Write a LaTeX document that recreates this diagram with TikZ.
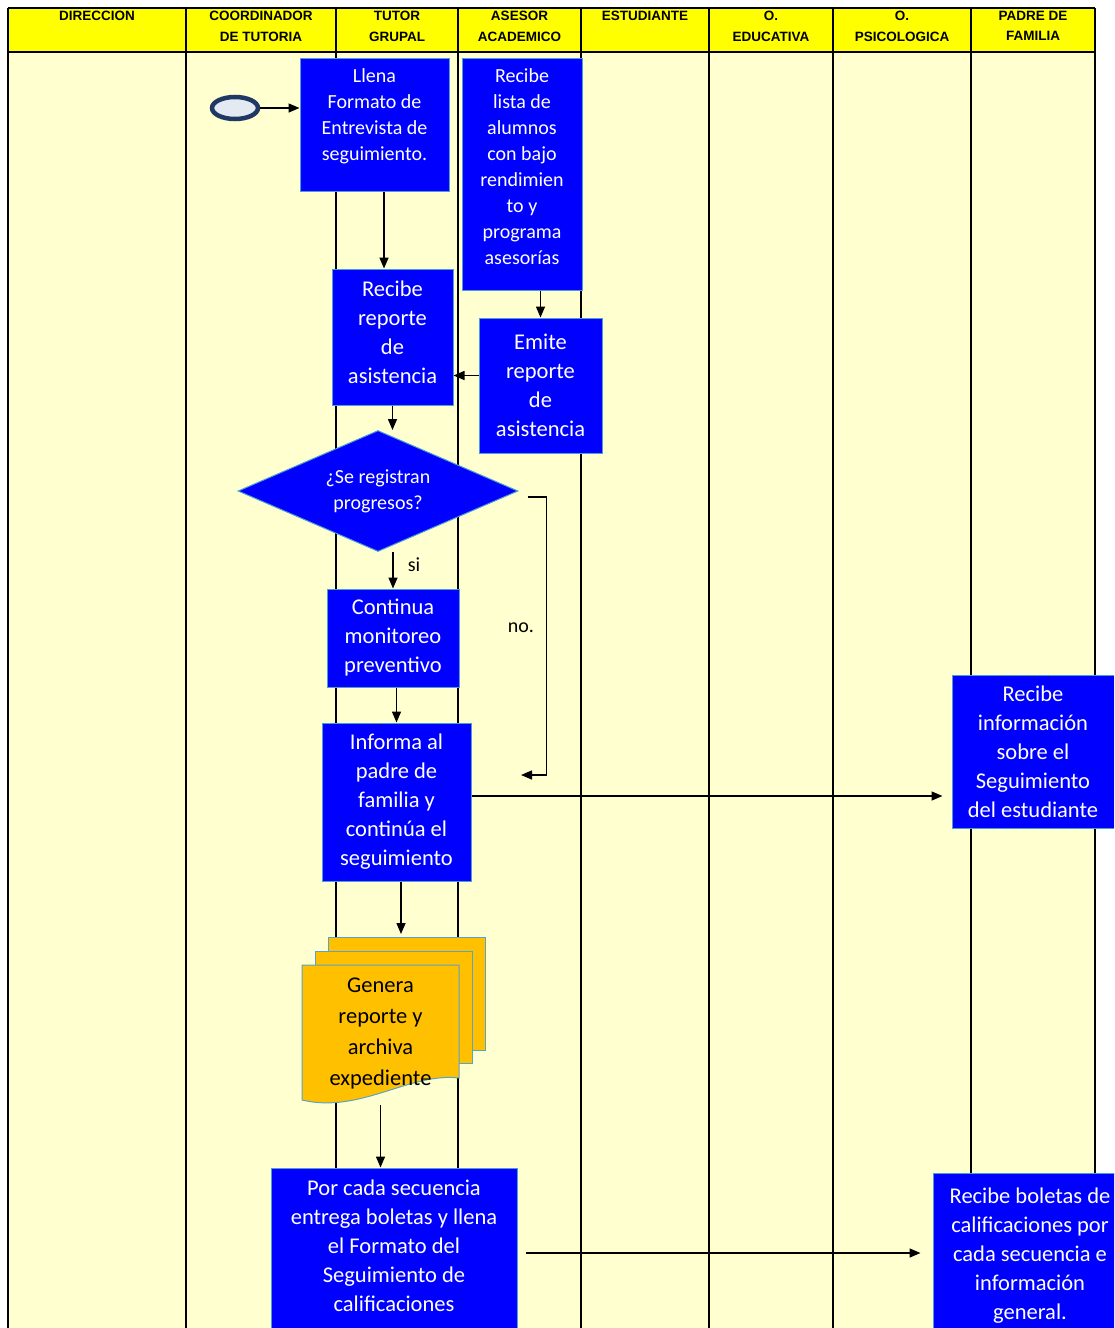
\documentclass[tikz,border=0pt]{standalone}
\usepackage{fontspec}
\setmainfont{Carlito}
\newfontfamily\hdrfont{Liberation Sans}
\usetikzlibrary{shapes.geometric,arrows.meta}
\definecolor{procblue}{HTML}{0000FF}
\definecolor{procedge}{HTML}{4A9FD0}
\definecolor{lanebg}{HTML}{FFFFCF}
\definecolor{hdrfill}{HTML}{FFFF00}
\definecolor{docfill}{HTML}{FFC000}
\definecolor{docedge}{HTML}{5BA3C6}
\definecolor{ovalnavy}{HTML}{1F3864}
\definecolor{ovalin}{HTML}{E4EAF2}
\begin{document}
\begin{tikzpicture}[x=1pt,y=-1pt,
        proc/.style={rectangle, fill=procblue, draw=procedge, line width=1pt,
        text=white, align=center, inner sep=0pt},
        fsm/.style={font=\fontsize{20}{26}\selectfont},
        fbig/.style={font=\fontsize{22.5}{29}\selectfont},
        hdrtext/.style={anchor=north, inner sep=0pt, align=center,
        font=\hdrfont\bfseries\fontsize{13.5}{20.5}\selectfont},
        lane/.style={line width=2pt},
        arr/.style={-{Triangle[length=11pt,width=9pt]}, line width=1.5pt},
        docpage/.style={fill=docfill, draw=docedge, line width=1pt},
        lbl/.style={inner sep=0pt, font=\fontsize{20}{24}\selectfont}]
    \useasboundingbox (0,0) rectangle (1114,1328);
    \clip (0,0) rectangle (1114,1328);
    \fill[white] (0,0) rectangle (1114,1328);
    \fill[lanebg] (8,52) rectangle (1095,1328);
    \fill[hdrfill] (8,8) rectangle (1095,52);
    \foreach \x in {8,186,336,458,581,709,833,971,1095}
        \draw[lane] (\x,8) -- (\x,1330);
    \draw[lane] (8,8) -- (1095,8);
    \draw[lane] (8,52) -- (1095,52);
    \node[hdrtext] (hdir) at (97,11) {DIRECCION};
    \node[hdrtext] (hcoord) at (261,11) {COORDINADOR\\DE TUTORIA};
    \node[hdrtext] (htutor) at (397,11) {TUTOR\\GRUPAL};
    \node[hdrtext] (hasesor) at (519.5,11) {ASESOR\\ACADEMICO};
    \node[hdrtext] (hest) at (645,11) {ESTUDIANTE};
    \node[hdrtext] (hedu) at (771,11) {O.\\EDUCATIVA};
    \node[hdrtext] (hpsico) at (902,11) {O.\\PSICOLOGICA};
    \node[hdrtext] (hpadre) at (1033,11) {PADRE DE\\FAMILIA};

    \node[ellipse, draw=ovalnavy, line width=4.5pt, fill=ovalin,
        minimum width=46pt, minimum height=22pt] (start) at (235,108) {};
    \node[proc, fsm, minimum width=149pt, minimum height=133pt] (llena) at (374.5,124.5)
        {Llena\\Formato de\\Entrevista de\\seguimiento.\\[-6pt]\mbox{}};
    \node[proc, fsm, minimum width=120pt, minimum height=232pt] (lista) at (522,174)
        {Recibe\\lista de\\alumnos\\con bajo\\rendimien\\to y\\programa\\asesorías\\[-12pt]\mbox{}};
    \node[proc, fbig, minimum width=121pt, minimum height=136pt] (recrep) at (392.5,337)
        {Recibe\\reporte\\de\\asistencia\\[-19pt]\mbox{}};
    \node[proc, fbig, minimum width=123pt, minimum height=135pt] (emite) at (540.5,385.5)
        {Emite\\reporte\\de\\asistencia};
    \node[proc, fsm, diamond, shape aspect=2.3, minimum width=280pt,
        minimum height=121pt] (dec) at (378,491) {¿Se registran\\progresos?};
    \node[proc, fbig, minimum width=132pt, minimum height=98pt] (cont) at (393,638)
        {Continua\\monitoreo\\preventivo};
    \node[proc, fbig, minimum width=149pt, minimum height=158pt] (inf) at (396.5,802)
        {Informa al\\padre de\\familia y\\continúa el\\seguimiento};
    \node[proc, fbig, minimum width=162pt, minimum height=153pt] (recinf) at (1033,751.5)
        {Recibe\\información\\sobre el\\Seguimiento\\del estudiante};

    \filldraw[docpage] (328,937) rectangle (485,1050);
    \filldraw[docpage] (315,951) rectangle (472,1063);
    \filldraw[docpage] (302,965) -- (459,965) -- (459,1078)
        .. controls (410,1072) and (360,1114) .. (302,1100) -- cycle;
    \node[inner sep=0pt, align=center, minimum width=157pt, minimum height=140pt,
        font=\fontsize{22.5}{31}\selectfont] (doc) at (380.5,1033)
        {Genera\\reporte y\\archiva\\expediente};
    \coordinate (stacktop) at (401,934);

    \node[proc, fbig, minimum width=246pt, minimum height=170pt] (porcada) at (394,1253)
        {Por cada secuencia\\entrega boletas y llena\\el Formato del\\Seguimiento de\\calificaciones\\[-15pt]\mbox{}};
    \node[proc, fbig, minimum width=194pt, minimum height=166pt] (recbol) at (1030,1256)
        {Recibe boletas de\\calificaciones por\\cada secuencia e\\información\\general.};

    \draw[arr] (start.east) -- (start.east -| llena.west);
    \draw[arr] ([xshift=9.5pt]llena.south) -- ([xshift=9.5pt]llena.south |- recrep.north);
    \draw[arr] (emite.north |- lista.south) -- (emite.north);
    \draw[arr] ([yshift=10pt]emite.west) -- ([yshift=10pt]emite.west -| recrep.east);
    \draw[arr] (recrep.south) -- (recrep.south |- dec.north);
    \draw[arr] (cont.north |- dec.south) -- (cont.north)
        node[lbl, pos=0.35, right=14pt] (si) {si};
    \coordinate (noend) at (521,775);
    \draw[arr] ([xshift=9pt,yshift=-6pt]dec.east) -- ++(19,0) |- (noend);
    \node[lbl] (no) at (521,628) {no.};
    \draw[arr] (inf.north |- cont.south) -- (inf.north);
    \draw[arr, shorten >=9pt] ([yshift=6pt]inf.east) -- ([yshift=6pt]inf.east -| recinf.west);
    \draw[arr] (inf.south -| stacktop) -- (stacktop);
    \draw[arr] ([yshift=-2pt]doc.south) -- (doc.south |- porcada.north);
    \draw[arr, shorten <=8pt, shorten >=12pt] (porcada.east) -- (porcada.east -| recbol.west);
\end{tikzpicture}
\end{document}
